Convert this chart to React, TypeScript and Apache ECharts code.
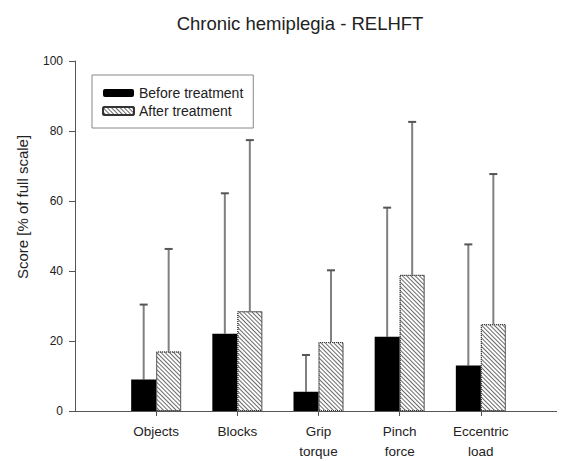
import React, { useEffect, useRef } from "react";
import * as echarts from "echarts";

const categories = ["Objects", "Blocks", "Grip\ntorque", "Pinch\nforce", "Eccentric\nload"];
const beforeMeans = [9.0, 22.1, 5.5, 21.2, 13.0];
const beforeUpper = [30.4, 62.2, 16.0, 58.1, 47.6];
const afterMeans = [17.0, 28.5, 19.7, 38.9, 24.8];
const afterUpper = [46.3, 77.4, 40.2, 82.6, 67.7];
const yTicks = [0, 20, 40, 60, 80, 100];

const BAR_W = 25;

export default function App() {
  const ref = useRef<HTMLDivElement>(null);
  useEffect(() => {
    if (!ref.current) return;
    const chart = echarts.init(ref.current, null, { renderer: "svg" });
    const axisCats = ["", ...categories, ""];
    const barData = (arr: number[]) => arr.map((v, i) => [i + 1, v]);
    const errData = (m: number[], u: number[]) => m.map((v, i) => [i + 1, v, u[i]]);
    const errRender = (offset: number) => (params: any, api: any) => {
      const x = api.value(0);
      const base = api.coord([x, api.value(1)]);
      const top = api.coord([x, api.value(2)]);
      const cx = base[0] + offset;
      return {
        type: "group",
        children: [
          {
            type: "line",
            shape: { x1: cx, y1: base[1], x2: cx, y2: top[1] },
            style: { stroke: "#808080", lineWidth: 2 },
          },
          {
            type: "line",
            shape: { x1: cx - 4, y1: top[1], x2: cx + 4, y2: top[1] },
            style: { stroke: "#555", lineWidth: 2 },
          },
        ],
      };
    };
    const hatch = {
      symbol: "rect",
      symbolSize: 1,
      dashArrayX: [1, 0],
      dashArrayY: [1, 2],
      rotation: Math.PI / 4,
      color: "#6a6a6a",
      backgroundColor: "#fff",
    };
    chart.setOption({
      animation: false,
      backgroundColor: "#fff",
      title: {
        text: "Chronic hemiplegia - RELHFT",
        left: 295,
        textAlign: "center",
        top: 9,
        textStyle: { fontFamily: "Liberation Sans", fontSize: 18.5, fontWeight: "normal", color: "#222" },
      },
      legend: {
        orient: "vertical",
        left: 92,
        top: 75,
        padding: [10, 10, 9, 10],
        borderColor: "#888",
        borderWidth: 1,
        itemWidth: 31,
        itemHeight: 8,
        itemGap: 2,
        textStyle: { fontFamily: "Liberation Sans", fontSize: 14, color: "#222", lineHeight: 16 },
        data: ["Before treatment", "After treatment"],
      },
      graphic: [
        {
          type: "text",
          x: 22,
          y: 207,
          rotation: Math.PI / 2,
          style: {
            text: "Score [% of full scale]",
            font: "15px 'Liberation Sans'",
            fill: "#222",
            align: "center",
            verticalAlign: "middle",
          },
        },
      ],
      grid: { left: 75, right: 0, top: 61, bottom: 48 },
      xAxis: {
        type: "category",
        data: axisCats,
        boundaryGap: false,
        axisLine: { lineStyle: { color: "#555", width: 1 } },
        axisTick: {
          length: 5,
          interval: (i: number, v: string) => v !== "",
          lineStyle: { color: "#555" },
        },
        axisLabel: {
          interval: 0,
          margin: 10,
          fontFamily: "Liberation Sans",
          fontSize: 13.5,
          lineHeight: 20,
          color: "#222",
        },
        splitLine: { show: false },
      },
      yAxis: {
        type: "value",
        min: 0,
        max: 100,
        interval: 20,
        axisLine: { show: true, lineStyle: { color: "#555", width: 1 } },
        axisTick: { show: true, length: 6, lineStyle: { color: "#555" } },
        axisLabel: {
          margin: 12,
          fontFamily: "Liberation Sans",
          fontSize: 12,
          color: "#222",
          formatter: (v: number) => (yTicks.includes(v) ? String(v) : ""),
        },
        splitLine: { show: false },
      },
      series: [
        {
          name: "Before treatment",
          type: "bar",
          data: barData(beforeMeans),
          barWidth: BAR_W,
          barGap: "0%",
          itemStyle: { color: "#000" },
          z: 3,
        },
        {
          name: "After treatment",
          type: "bar",
          data: barData(afterMeans),
          barWidth: BAR_W,
          barGap: "0%",
          itemStyle: {
            color: "#fff",
            borderColor: "#333",
            borderWidth: 1,
            borderType: "dotted",
            decal: hatch,
          },
          z: 3,
        },
        {
          name: "errBefore",
          type: "custom",
          data: errData(beforeMeans, beforeUpper),
          renderItem: errRender(-BAR_W / 2),
          z: 2,
          silent: true,
        },
        {
          name: "errAfter",
          type: "custom",
          data: errData(afterMeans, afterUpper),
          renderItem: errRender(BAR_W / 2),
          z: 2,
          silent: true,
        },
      ],
    });
    return () => chart.dispose();
  }, []);
  return <div ref={ref} style={{ width: 565, height: 461, marginLeft: -8, marginTop: -8 }} />;
}
